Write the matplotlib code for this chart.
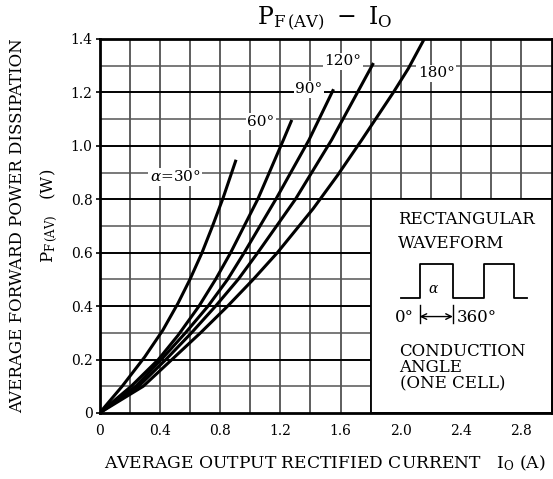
import matplotlib
matplotlib.use('Agg')
import matplotlib.pyplot as plt
from matplotlib.patches import Rectangle

plt.rcParams['font.family'] = ['DejaVu Serif']
plt.rcParams['mathtext.fontset'] = 'dejavuserif'

# curves (Io in A, Pf in W)
io_30 = [0, 0.15, 0.30, 0.42, 0.52, 0.60, 0.68, 0.75, 0.82, 0.906]
pf_30 = [0, 0.10, 0.21, 0.31, 0.41, 0.50, 0.60, 0.70, 0.805, 0.948]

io_60 = [0, 0.21, 0.39, 0.52, 0.66, 0.77, 0.87, 1.05, 1.22, 1.276]
pf_60 = [0, 0.10, 0.20, 0.29, 0.40, 0.50, 0.60, 0.80, 1.022, 1.097]

io_90 = [0, 0.24, 0.41, 0.57, 0.72, 0.85, 0.96, 1.17, 1.39, 1.553]
pf_90 = [0, 0.10, 0.20, 0.30, 0.40, 0.50, 0.60, 0.80, 1.022, 1.212]

io_120 = [0, 0.26, 0.44, 0.61, 0.77, 0.92, 1.05, 1.30, 1.54, 1.818]
pf_120 = [0, 0.10, 0.20, 0.30, 0.40, 0.50, 0.60, 0.80, 1.022, 1.31]

io_180 = [0, 0.29, 0.48, 0.67, 0.85, 1.02, 1.18, 1.418, 1.58, 1.74, 1.95, 2.05, 2.155]
pf_180 = [0, 0.10, 0.20, 0.30, 0.40, 0.50, 0.60, 0.765, 0.89, 1.022, 1.20, 1.29, 1.40]

curve_labels = [r'$\alpha$=30°', '60°', '90°', '120°', '180°']
label_x = [0.50, 1.07, 1.39, 1.613, 2.236]
label_y = [0.885, 1.09, 1.212, 1.316, 1.272]

xticks = [0, 0.4, 0.8, 1.2, 1.6, 2.0, 2.4, 2.8]
xtick_labels = ['0', '0.4', '0.8', '1.2', '1.6', '2.0', '2.4', '2.8']
yticks = [0, 0.2, 0.4, 0.6, 0.8, 1.0, 1.2, 1.4]
ytick_labels = ['0', '0.2', '0.4', '0.6', '0.8', '1.0', '1.2', '1.4']

# waveform sketch inside the box
wave_x = [2.0, 2.124, 2.124, 2.345, 2.345, 2.553, 2.553, 2.748, 2.748, 2.837]
wave_y = [0.43, 0.43, 0.558, 0.558, 0.43, 0.43, 0.558, 0.558, 0.43, 0.43]

fig = plt.figure(figsize=(5.53, 4.79), dpi=100)
ax = fig.add_axes([0.18, 0.1378, 0.8174, 0.7808])
ax.set_xlim(0, 3.0)
ax.set_ylim(0, 1.4)

# grid
for i in range(1, 15):
    x = i * 0.2
    ax.axvline(x, color='#333333', lw=1.1, zorder=1)
for i in range(1, 14):
    y = i * 0.1
    if i % 2 == 0:
        ax.axhline(y, color='black', lw=1.4, zorder=1)
    else:
        ax.axhline(y, color='#555555', lw=1.1, zorder=1)

# curves
for xs, ys in [(io_30, pf_30), (io_60, pf_60), (io_90, pf_90),
               (io_120, pf_120), (io_180, pf_180)]:
    ax.plot(xs, ys, color='black', lw=2.2, zorder=3, solid_capstyle='butt',
            solid_joinstyle='round')

for t, lx, ly in zip(curve_labels, label_x, label_y):
    ax.text(lx, ly, t, fontsize=11, ha='center', va='center', zorder=4,
            bbox=dict(boxstyle='square,pad=0.1', fc='white', ec='none'))

# inset box
ax.add_patch(Rectangle((1.8, 0), 1.2, 0.8, fc='white', ec='black', lw=1.3,
                       zorder=5))
ax.text(1.981, 0.723, 'RECTANGULAR', fontsize=12, ha='left', va='center', zorder=6)
ax.text(1.981, 0.633, 'WAVEFORM', fontsize=12, ha='left', va='center', zorder=6)
ax.plot(wave_x, wave_y, color='black', lw=1.3, zorder=6)
ax.text(2.217, 0.463, r'$\alpha$', fontsize=10, ha='center', va='center', zorder=6)
ax.annotate('', xy=(2.124, 0.361), xytext=(2.345, 0.361), zorder=6,
            arrowprops=dict(arrowstyle='<->', color='black', lw=1.0,
                            shrinkA=0, shrinkB=0))
ax.plot([2.124, 2.124], [0.337, 0.404], color='black', lw=1.0, zorder=6)
ax.plot([2.345, 2.345], [0.337, 0.404], color='black', lw=1.0, zorder=6)
ax.text(2.085, 0.358, '0°', fontsize=12, ha='right', va='center', zorder=6)
ax.text(2.37, 0.358, '360°', fontsize=12, ha='left', va='center', zorder=6)
ax.text(1.991, 0.170, 'CONDUCTION\nANGLE\n(ONE CELL)', fontsize=12,
        ha='left', va='center', linespacing=0.95, zorder=6)

# axes
for s in ax.spines.values():
    s.set_linewidth(2.0)
    s.set_zorder(7)
ax.set_xticks(xticks)
ax.set_xticklabels(xtick_labels)
ax.set_yticks(yticks)
ax.set_yticklabels(ytick_labels)
ax.tick_params(axis='x', length=0, pad=8, labelsize=10)
ax.tick_params(axis='y', length=3, width=1.2, pad=2, labelsize=10)

fig.text(0.588, 0.96, r'$\mathrm{P_{F\,(AV)}}\ -\ \mathrm{I_O}$', fontsize=17,
         ha='center', va='center')
fig.text(0.588, 0.033, r'AVERAGE OUTPUT RECTIFIED CURRENT   $\mathrm{I_O}$ (A)',
         fontsize=12.3, ha='center', va='center')
fig.text(0.031, 0.528, 'AVERAGE FORWARD POWER DISSIPATION', fontsize=12,
         rotation=90, ha='center', va='center')
fig.text(0.088, 0.55, r'$\mathrm{P_{F\,(AV)}}$   (W)', fontsize=12,
         rotation=90, ha='center', va='center')

fig.savefig('out.png', dpi=100)
